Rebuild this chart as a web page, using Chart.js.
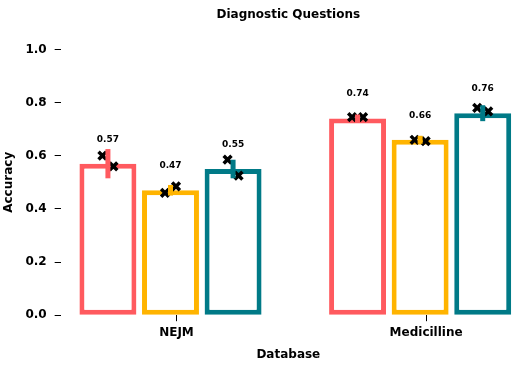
<!DOCTYPE html>
<html>
<head>
<meta charset="utf-8">
<script src="https://cdn.jsdelivr.net/npm/chart.js@4.4.1/dist/chart.umd.min.js"></script>
<style>
  html, body { margin: 0; padding: 0; background: #ffffff; }
  #wrap { width: 525px; height: 373px; }
</style>
</head>
<body>
<div id="wrap"><canvas id="accChart"></canvas></div>
<script>
// Data
const databases = ["NEJM", "Medicilline"];
const seriesNames = ["Group 1", "Group 2", "Group 3"];

const redAcc = [0.57, 0.74];
const yellowAcc = [0.47, 0.66];
const tealAcc = [0.55, 0.76];

// individual runs (the black x markers)
const redRuns = [[0.60, 0.56], [0.745, 0.745]];
const yellowRuns = [[0.46, 0.485], [0.66, 0.655]];
const tealRuns = [[0.585, 0.525], [0.78, 0.767]];

// half length of the coloured error bars
const redErr = [0.055, 0.015];
const yellowErr = [0.02, 0.015];
const tealErr = [0.035, 0.03];

const yTicks = [0, 0.2, 0.4, 0.6, 0.8, 1.0];

// Style
const colors = ["#FF5A5F", "#FFB400", "#007A87"];
const catPct = 0.752;
const barPct = 0.91;
const tickShift = 0.024; // category ticks sit a bit right of the middle bar
const jitter = [-0.022, 0.022];
const boldFont = (size) => ({ family: "'DejaVu Sans', sans-serif", size: size, weight: "bold" });

const series = [
  { mean: redAcc, runs: redRuns, err: redErr },
  { mean: yellowAcc, runs: yellowRuns, err: yellowErr },
  { mean: tealAcc, runs: tealRuns, err: tealErr },
];

const datasets = [];

// ! Bars
series.forEach((s, i) => {
  datasets.push({
    type: "bar",
    label: seriesNames[i],
    data: s.mean.map((v, c) => ({ x: c, y: v })),
    backgroundColor: "#ffffff",
    borderColor: colors[i],
    borderWidth: 5,
    borderSkipped: false,
    categoryPercentage: catPct,
    barPercentage: barPct,
    order: 3,
  });
});

// ! Runs as x markers
series.forEach((s, i) => {
  const pts = [];
  s.runs.forEach((vals, c) => {
    vals.forEach((v, k) => {
      pts.push({ x: c + ((i - 1) * catPct) / 3 + jitter[k], y: v });
    });
  });
  datasets.push({
    type: "scatter",
    label: seriesNames[i] + " runs",
    data: pts,
    pointStyle: "crossRot",
    pointRadius: 5.5,
    borderColor: "#000000",
    backgroundColor: "#000000",
    borderWidth: 3.5,
    order: 1,
  });
});

// Error bars + value labels
const errorBarsAndLabels = {
  id: "errorBarsAndLabels",
  afterDatasetsDraw(chart) {
    const ctx = chart.ctx;
    const yScale = chart.scales.y;
    series.forEach((s, i) => {
      const meta = chart.getDatasetMeta(i);
      meta.data.forEach((bar, c) => {
        const v = s.mean[c];
        const e = s.err[c];
        ctx.save();
        ctx.strokeStyle = colors[i];
        ctx.lineWidth = 5;
        ctx.beginPath();
        ctx.moveTo(bar.x, yScale.getPixelForValue(v - e));
        ctx.lineTo(bar.x, yScale.getPixelForValue(v + e));
        ctx.stroke();

        ctx.fillStyle = "#000000";
        ctx.font = "bold 9px 'DejaVu Sans', sans-serif";
        ctx.textAlign = "center";
        ctx.textBaseline = "bottom";
        ctx.fillText(v.toFixed(2), bar.x, yScale.getPixelForValue(v + 0.075));
        ctx.restore();
      });
    });
  },
};

const ctx = document.getElementById("accChart").getContext("2d");

const accChart = new Chart(ctx, {
  data: { datasets: datasets },
  options: {
    responsive: true,
    maintainAspectRatio: false,
    animation: false,
    layout: { padding: { left: 0, right: 0, top: 0, bottom: 11 } },
    plugins: {
      legend: { display: false },
      tooltip: { enabled: false },
      title: {
        display: true,
        text: "Diagnostic Questions",
        fullSize: false,
        color: "#000000",
        font: boldFont(12),
        padding: { top: 8, bottom: 27 },
      },
    },
    scales: {
      x: {
        type: "linear",
        offset: false,
        min: -0.44,
        max: 1.384,
        afterBuildTicks: (axis) => {
          axis.ticks = databases.map((_, c) => ({ value: c + tickShift }));
        },
        ticks: {
          callback: (v, idx) => databases[idx],
          color: "#000000",
          font: boldFont(12),
          padding: 4,
          maxRotation: 0,
          autoSkip: false,
        },
        grid: {
          offset: false,
          drawOnChartArea: false,
          drawTicks: true,
          tickLength: 6,
          tickColor: "#000000",
          tickWidth: 1,
        },
        border: { display: false },
        title: {
          display: true,
          text: "Database",
          color: "#000000",
          font: boldFont(12),
          padding: { top: 4, bottom: 0 },
        },
      },
      y: {
        type: "linear",
        min: 0,
        max: 1,
        afterBuildTicks: (axis) => {
          axis.ticks = yTicks.map((v) => ({ value: v }));
        },
        ticks: {
          callback: (v) => Number(v).toFixed(1),
          color: "#000000",
          font: boldFont(12),
          padding: 8,
        },
        grid: {
          drawOnChartArea: false,
          drawTicks: true,
          tickLength: 6,
          tickColor: "#000000",
          tickWidth: 1,
        },
        border: { display: false },
        title: {
          display: true,
          text: "Accuracy",
          color: "#000000",
          font: boldFont(12),
          padding: { top: 2, bottom: 1 },
        },
      },
    },
  },
  plugins: [errorBarsAndLabels],
});
</script>
</body>
</html>
